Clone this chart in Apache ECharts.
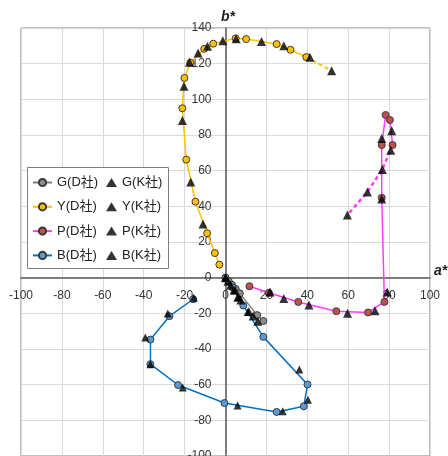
<!DOCTYPE html>
<html>
<head>
<meta charset="utf-8">
<script src="https://cdn.jsdelivr.net/npm/echarts@6/dist/echarts.min.js"></script>
<style>
html,body{margin:0;padding:0;background:#fff;}
#chart{width:448px;height:456px;}
</style>
</head>
<body>
<div id="chart"></div>
<script>
// Tick settings
var xTicks = {min: -100, max: 100, step: 20};
var yTicks = {min: -100, max: 140, step: 20};
var xName = 'a*';
var yName = 'b*';

// Series names
var namesD = ['G(D社)', 'Y(D社)', 'P(D社)', 'B(D社)'];
var namesK = ['G(K社)', 'Y(K社)', 'P(K社)', 'B(K社)'];

// G series [a*, b*]
var grayD = [[0,0],[1.6,-2],[3.2,-4],[5,-6.3],[7,-8.8],[15.5,-21],[18.5,-24.3]];
var grayK = [[0,0],[1.2,-2],[2.5,-4.2],[4.6,-7],[6,-11],[7.5,-12.5],[11.4,-19],[13.5,-21.5],[15.8,-24.5]];

// Y series
var yellowD = [[-3,7.3],[-5.2,13.8],[-9,24.9],[-14.7,42.6],[-19.2,66.2],[-21.1,95],[-20.1,112],[-17.2,120.5],[-10.4,128.3],[-6,131.2],[5,134.2],[10.1,133.8],[25,131],[31.8,127.8],[39.5,123.7]];
var yellowK = [[-11,30.1],[-17,53.7],[-21.1,88.1],[-20.3,107.3],[-17.6,120.8],[-13.4,126],[-8.8,129.7],[-1.3,132.9],[5.2,134],[17.6,132.5],[28.5,130],[41.3,123.6],[51.9,116]];
var yellowExt = [[39.5,123.7],[51.9,116]];

// P series
var pinkD = [[11.7,-4.8],[21.2,-8.5],[35.6,-13.6],[54.2,-18.8],[69.7,-19.5],[77.7,-13.6],[76.4,44.8],[76.4,74.4],[78.3,91.2],[80.4,88.4],[81.7,74.4]];
var pinkK = [[21.7,-8.1],[28.5,-11.7],[40.8,-15.3],[59.7,-19.9],[73.1,-18.6],[79.1,-8],[76.4,44.1],[76.4,78.1],[81.3,82.4],[80.8,71.5],[76.7,60.7],[69.4,48.1],[59.6,35.1]];
var pinkExt = [[81.7,74.4],[76.7,60.7],[69.4,48.1],[59.6,35.1]];

// B series
var blueD = [[0,0],[3.5,-5.5],[8.7,-15.6],[18.5,-33.2],[40.1,-59.9],[38.3,-72.1],[25,-75.3],[-0.5,-70.3],[-23.2,-60.2],[-36.7,-48.5],[-36.7,-34.7],[-27.4,-21.6],[-15.8,-12.1]];
var blueK = [[0,0],[4,-7],[6.5,-11],[10.9,-19.2],[36.1,-51.5],[40.3,-68.4],[28,-74.9],[5.9,-71.7],[-20.9,-61.6],[-36.7,-48.5],[-39.2,-33.6],[-28.2,-20.1],[-15.5,-11.3]];

var FONT = "'Liberation Sans', 'Noto Sans CJK JP', sans-serif";
var lineColors = ['#7f7f7f', '#ffc000', '#ff3dff', '#0070c0'];
var dotColors = ['#8c8c8c', '#ffc000', '#c0504d', '#5b9bd5'];
var dataD = [grayD, yellowD, pinkD, blueD];
var dataK = [grayK, yellowK, pinkK, blueK];

var series = [];
for (var i = 0; i < 4; i++) {
  series.push({
    name: namesD[i], type: 'line', data: dataD[i], z: 3,
    symbol: 'circle', symbolSize: 7, showAllSymbol: true,
    lineStyle: {color: lineColors[i], width: 1.5},
    itemStyle: {color: dotColors[i], borderColor: '#3a3a3a', borderWidth: 1},
    animation: false
  });
}
series.push({name: 'Y-ext', type: 'line', data: yellowExt, symbol: 'none', z: 2,
  lineStyle: {color: '#ffc000', width: 2, type: [4, 3]}, animation: false});
series.push({name: 'P-ext', type: 'line', data: pinkExt, symbol: 'none', z: 2,
  lineStyle: {color: '#ff3dff', width: 2.5, type: [4, 3]}, animation: false});
for (var j = 0; j < 4; j++) {
  series.push({
    name: namesK[j], type: 'scatter', data: dataK[j], z: 4,
    symbol: 'triangle', symbolSize: j === 3 ? 8 : 9,
    itemStyle: {color: '#000'}, animation: false
  });
}

var G_LEFT = 21, G_RIGHT = 18, G_TOP = 28, G_BOTTOM = 0;
var gridW = 448 - G_LEFT - G_RIGHT;
var gridH = 456 - G_TOP - G_BOTTOM;
// distance of the zero lines from the bottom / left grid edges
var xZeroOffset = gridH * (0 - yTicks.min) / (yTicks.max - yTicks.min);
var yZeroOffset = gridW * (0 - xTicks.min) / (xTicks.max - xTicks.min);

var chart = echarts.init(document.getElementById('chart'), null, {renderer: 'canvas'});
chart.setOption({
  animation: false,
  textStyle: {fontFamily: FONT},
  grid: {left: G_LEFT, right: G_RIGHT, top: G_TOP, bottom: G_BOTTOM, show: true, borderColor: '#7f7f7f', borderWidth: 1, containLabel: false, outerBoundsMode: 'none'},
  xAxis: {
    type: 'value', min: xTicks.min, max: xTicks.max, interval: xTicks.step,
    position: 'bottom', offset: -xZeroOffset,
    name: xName, nameLocation: 'end', nameGap: 4,
    nameTextStyle: {fontFamily: FONT, fontSize: 14, fontStyle: 'italic', fontWeight: 'bold', color: '#222', verticalAlign: 'bottom'},
    axisLine: {onZero: false, lineStyle: {color: '#595959', width: 1.5}},
    axisTick: {show: false},
    axisLabel: {margin: 12, fontSize: 12, color: '#333', fontFamily: FONT, showMinLabel: true, showMaxLabel: true},
    splitLine: {lineStyle: {color: '#d9d9d9', width: 1}}
  },
  yAxis: {
    type: 'value', min: yTicks.min, max: yTicks.max, interval: yTicks.step,
    position: 'left', offset: -yZeroOffset,
    name: yName, nameLocation: 'end', nameGap: 4,
    nameTextStyle: {fontFamily: FONT, fontSize: 14, fontStyle: 'italic', fontWeight: 'bold', color: '#222', padding: [0, 0, 0, 5]},
    axisLine: {onZero: false, lineStyle: {color: '#595959', width: 1.5}},
    axisTick: {show: false},
    axisLabel: {margin: 14, fontSize: 12, color: '#333', fontFamily: FONT, showMinLabel: true, showMaxLabel: true},
    splitLine: {lineStyle: {color: '#d9d9d9', width: 1}}
  },
  graphic: [{
    type: 'rect', z: 3, left: 27, top: 167,
    shape: {width: 141, height: 101},
    style: {fill: '#fff', stroke: '#7f7f7f', lineWidth: 1}
  }],
  legend: [{
    data: namesD, orient: 'vertical', left: 27, top: 171,
    itemWidth: 19, itemHeight: 9, itemGap: 11.3,
    textStyle: {fontFamily: FONT, fontSize: 13, color: '#222'},
    selectedMode: false
  }, {
    data: namesK, orient: 'vertical', left: 101, top: 171,
    itemWidth: 11, itemHeight: 9, itemGap: 11.3,
    textStyle: {fontFamily: FONT, fontSize: 13, color: '#222'},
    selectedMode: false
  }],
  series: series
});
</script>
</body>
</html>
